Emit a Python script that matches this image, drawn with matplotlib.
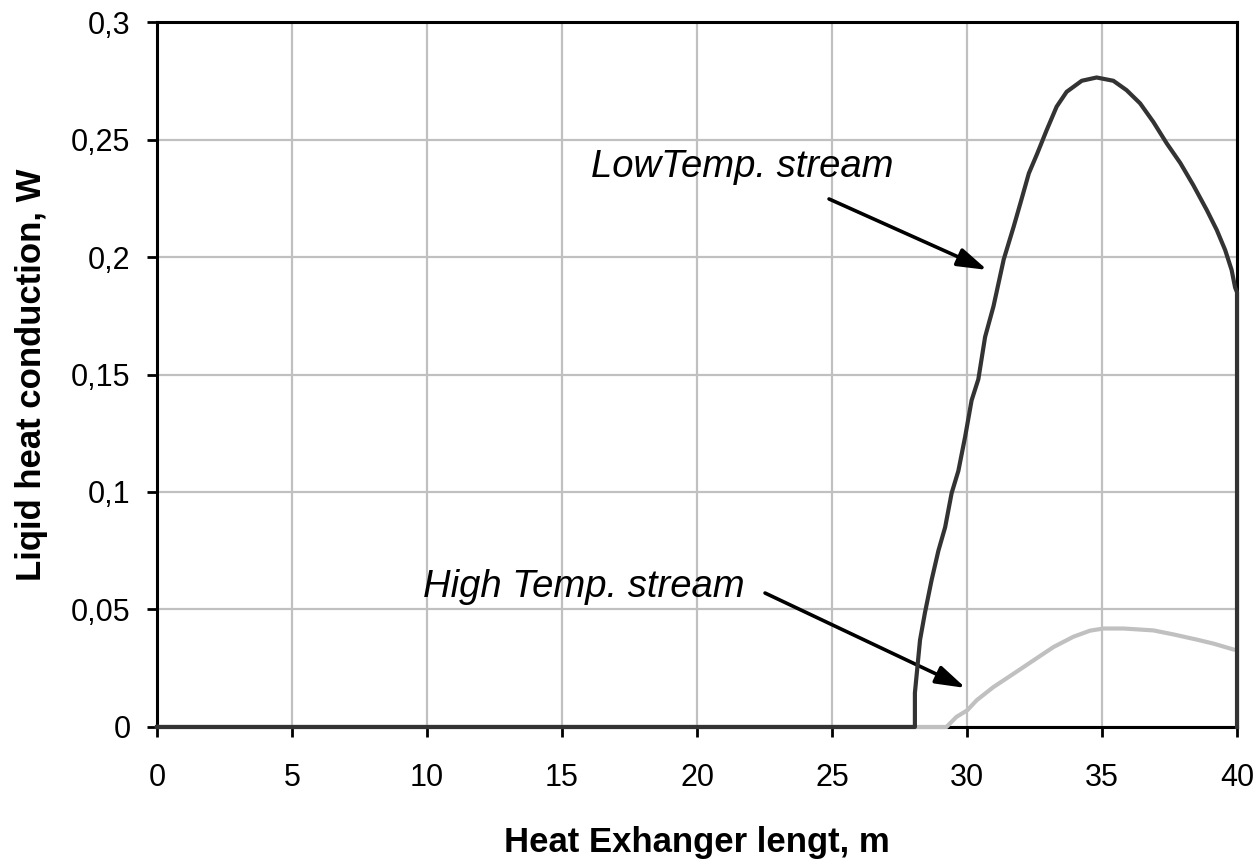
import matplotlib.pyplot as plt
from matplotlib.ticker import FuncFormatter

plt.rcParams['font.family'] = ['Liberation Sans', 'DejaVu Sans']

# Low temperature stream
low_x = [0, 28.07, 28.07, 28.26, 28.44, 28.69, 28.94, 29.19, 29.43, 29.68, 29.93,
         30.17, 30.42, 30.67, 30.98, 31.36, 31.73, 31.98, 32.29, 32.6, 32.95, 33.32,
         33.69, 34.25, 34.8, 35.42, 35.91, 36.41, 36.9, 37.4, 37.9, 38.38, 38.88,
         39.25, 39.56, 39.8, 39.93, 40, 40]
low_y = [0, 0, 0.0145, 0.037, 0.0485, 0.0626, 0.075, 0.085, 0.0995, 0.109, 0.1235,
         0.139, 0.148, 0.166, 0.179, 0.199, 0.213, 0.223, 0.2356, 0.244, 0.254, 0.264,
         0.2703, 0.275, 0.2764, 0.275, 0.271, 0.2654, 0.2575, 0.2483, 0.240, 0.2306, 0.22,
         0.2115, 0.203, 0.1945, 0.187, 0.185, 0]

# High temperature stream
high_x = [0, 29.24, 29.61, 30.01, 30.36, 30.98, 31.73, 32.47, 33.2, 33.94, 34.56,
          35.06, 35.8, 36.9, 37.64, 38.5, 39.12, 39.86]
high_y = [0, 0, 0.0043, 0.0071, 0.0114, 0.017, 0.0227, 0.0284, 0.034, 0.0384, 0.041,
          0.0419, 0.0419, 0.0411, 0.0394, 0.0372, 0.0355, 0.033]

x_ticks = [0, 5, 10, 15, 20, 25, 30, 35, 40]
y_ticks = [0, 0.05, 0.1, 0.15, 0.2, 0.25, 0.3]

fig = plt.figure(figsize=(12.57, 8.64), dpi=100)
ax = fig.add_axes([0.1249, 0.1586, 0.8592, 0.8159])

ax.plot(high_x, high_y, color='#c0c0c0', lw=3, zorder=3, clip_on=False)
ax.plot(low_x, low_y, color='#333333', lw=3, zorder=4, clip_on=False)

ax.set_xlim(0, 40)
ax.set_ylim(0, 0.3)
ax.set_xticks(x_ticks)
ax.set_yticks(y_ticks)
ax.yaxis.set_major_formatter(FuncFormatter(lambda v, p: ('%g' % v).replace('.', ',')))
ax.grid(True, color='#c0c0c0', lw=1.6)
ax.set_axisbelow(True)
ax.tick_params(direction='out', length=7, width=2, labelsize=22,
               top=False, right=False)
ax.tick_params(axis='x', pad=19)
ax.tick_params(axis='y', pad=12)
for s in ax.spines.values():
    s.set_linewidth(2.2)
    s.set_color('black')

ax.set_xlabel('Heat Exhanger lengt, m', fontsize=25, fontweight='bold')
ax.set_ylabel('Liqid heat conduction, W', fontsize=25, fontweight='bold')
ax.xaxis.set_label_coords(0.5, -0.140)
ax.yaxis.set_label_coords(-0.101, 0.5)

arrow = dict(arrowstyle='-|>,head_length=0.9,head_width=0.28', color='black',
             lw=2.6, mutation_scale=20, shrinkA=0, shrinkB=0)
ax.text(21.67, 0.234, 'LowTemp. stream', fontsize=27.5, style='italic',
        ha='center', va='baseline')
ax.annotate('', xy=(30.75, 0.1945), xytext=(24.89, 0.2247), arrowprops=arrow)
ax.text(15.81, 0.0553, 'High Temp. stream', fontsize=27.5, style='italic',
        ha='center', va='baseline')
ax.annotate('', xy=(29.95, 0.0166), xytext=(22.52, 0.057), arrowprops=arrow)

fig.savefig('out.png', dpi=100)
